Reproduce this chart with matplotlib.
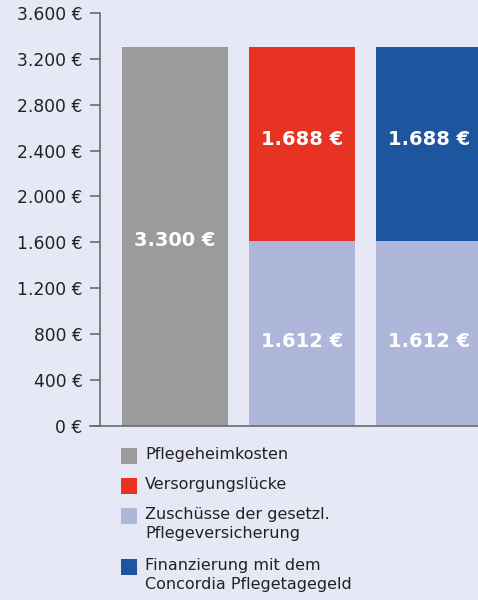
import matplotlib.pyplot as plt
from matplotlib.patches import Rectangle

# data
bar_names = ["Pflegeheimkosten", "Lücke", "Concordia"]
base_vals = [3300, 1612, 1612]
top_vals = [0, 1688, 1688]
yticks = [0, 400, 800, 1200, 1600, 2000, 2400, 2800, 3200, 3600]

legend_labels = ["Pflegeheimkosten", "Versorgungslücke",
                 "Zuschüsse der gesetzl.\nPflegeversicherung",
                 "Finanzierung mit dem\nConcordia Pflegetagegeld"]

BG = "#E7E8F5"
GRAY = "#9B9B9B"
RED = "#E63323"
LIGHT = "#AEB6DA"
DARK = "#1D569E"
AXIS = "#6B6B73"
TXT = "#222222"

base_colors = [GRAY, LIGHT, LIGHT]
top_colors = [GRAY, RED, DARK]
legend_colors = [GRAY, RED, LIGHT, DARK]


def fmt(v):
    return f"{v:,.0f} €".replace(",", ".")


plt.rcParams["font.family"] = "DejaVu Sans"

fig = plt.figure(figsize=(4.78, 6.0), dpi=100, facecolor=BG)
ax = fig.add_axes([100 / 478, 1 - 425.7 / 600, 378 / 478, (425.7 - 13) / 600])
ax.set_facecolor(BG)

x = list(range(len(bar_names)))
w = 106 / 127
ax.bar(x, base_vals, w, color=base_colors, linewidth=0)
ax.bar(x, top_vals, w, bottom=base_vals, color=top_colors, linewidth=0)

lab_kw = dict(ha="center", va="center", color="white", fontsize=14, fontweight="bold")
for i in x:
    if top_vals[i]:
        ax.text(i, base_vals[i] / 2 - 70, fmt(base_vals[i]), **lab_kw)
        ax.text(i, base_vals[i] + top_vals[i] / 2 + 40, fmt(top_vals[i]), **lab_kw)
    else:
        ax.text(i, base_vals[i] / 2 - 35, fmt(base_vals[i]), **lab_kw)

ax.set_xlim(-75 / 127, -75 / 127 + 378 / 127)
ax.set_ylim(0, 3600)
ax.set_yticks(yticks)
ax.set_yticklabels([fmt(v) for v in yticks])
ax.set_xticks([])
ax.tick_params(axis="y", direction="out", length=7.5, width=1.2, color=AXIS,
               labelsize=12.3, labelcolor=TXT, pad=5)
for s in ["top", "right"]:
    ax.spines[s].set_visible(False)
for s in ["left", "bottom"]:
    ax.spines[s].set_color(AXIS)
    ax.spines[s].set_linewidth(1.2)
ax.spines["bottom"].set_bounds(-75 / 127 - 10 / 127, 3)
ax.spines["bottom"].set_clip_on(False)

# legend drawn by hand to keep the square next to the first line
ypx = [456, 486, 516, 567]
for lab, col, yp in zip(legend_labels, legend_colors, ypx):
    yf = 1 - yp / 600
    fig.patches.append(Rectangle((121 / 478, yf - 8 / 600), 16 / 478, 16 / 600,
                                 transform=fig.transFigure, facecolor=col,
                                 edgecolor="none"))
    fig.text(145 / 478, yf + 9 / 600, lab, ha="left", va="top", fontsize=11.5,
             color=TXT, linespacing=1.35)

fig.savefig("out.png", dpi=100, facecolor=BG)
